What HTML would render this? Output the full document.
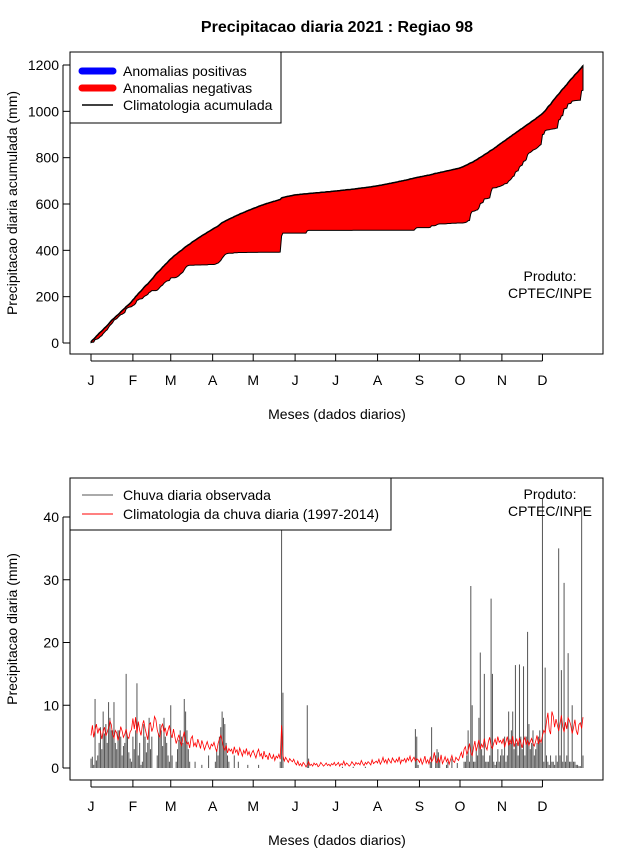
<!DOCTYPE html>
<html><head><meta charset="utf-8"><style>
body{margin:0;background:#fff}
svg{display:block;font-family:"Liberation Sans",sans-serif}
</style></head><body>
<svg id="c" width="640" height="850" viewBox="0 0 640 850" xmlns="http://www.w3.org/2000/svg">
<rect width="640" height="850" fill="#fff"/>
<text x="337" y="32" font-size="16" font-weight="bold" text-anchor="middle">Precipitacao diaria 2021 : Regiao 98</text>
<g id="top"></g>
<g id="bot"></g>
</svg>
<script>
const monthLabels=["J","F","M","A","M","J","J","A","S","O","N","D"];
const monthDays=[31,28,31,30,31,30,31,31,30,31,30,31];
const topTicks=[0,200,400,600,800,1000,1200];
const botTicks=[0,10,20,30,40];
const climJan=[5.2,6.8,4.9,6.1,7.0,5.5,6.3,5.8,4.6,5.9,6.5,5.1,5.7,6.4,7.5,6.9,5.3,4.8,6.0,5.6,4.4,5.2,6.6,5.9,4.9,5.4,6.2,5.0,4.7,5.8,6.1];
const climFeb=[7.9,6.2,8.1,5.5,7.4,6.0,5.2,6.8,7.6,6.3,5.4,4.5,6.9,7.2,5.8,6.5,8.2,7.7,6.1,5.3,4.9,6.6,7.0,5.7,6.4,5.1,6.0,6.8];
const climMar=[5.5,4.8,6.2,5.0,3.9,4.6,5.3,4.2,3.6,4.9,5.8,4.4,3.8,4.1,3.2,4.7,5.1,3.5,4.0,3.3,4.6,3.9,3.1,4.4,3.7,2.9,3.6,4.2,3.4,3.0,3.8];
const climApr=[3.5,4.1,3.2,2.6,3.9,4.6,5.2,4.4,3.3,2.8,3.6,2.4,3.1,2.7,3.0,2.2,3.4,2.5,2.9,2.0,3.2,2.6,1.9,2.8,2.3,3.1,2.1,2.6,1.8,2.4];
const climMay=[2.8,2.2,1.6,2.5,3.0,1.9,2.3,1.4,2.7,1.8,2.0,1.3,2.4,1.7,1.5,2.1,1.2,1.9,1.6,2.2,1.4,6.8,2.0,1.1,1.7,1.3,0.9,1.5,1.2,1.0,1.4];
const climJun=[0.8,0.5,1.1,0.4,0.7,0.3,0.9,0.6,0.2,0.5,1.0,0.4,0.6,0.3,0.8,0.5,0.7,0.2,0.4,0.9,0.6,0.3,0.5,0.8,0.4,0.6,0.3,0.7,0.5,0.9];
const climJul=[0.4,0.6,0.9,0.3,0.7,0.5,1.1,0.4,0.8,0.6,0.3,0.5,1.0,0.7,0.4,0.9,0.6,0.8,0.5,1.2,0.7,0.4,0.9,0.6,1.0,0.8,0.5,1.3,0.7,0.9,1.1];
const climAug=[0.8,1.4,0.6,1.0,1.7,0.9,1.3,0.7,1.5,1.1,0.8,1.6,1.2,0.9,1.4,1.0,1.8,0.7,1.3,1.1,1.5,0.9,1.6,1.2,1.9,1.0,1.4,1.7,1.1,1.5,1.3];
const climSep=[0.9,1.5,0.6,1.1,1.9,0.8,1.3,0.7,1.7,1.0,1.4,2.5,1.1,0.8,1.6,0.9,2.1,0.7,1.2,1.8,1.0,1.5,0.6,1.3,2.0,1.1,0.9,1.7,1.4,1.2];
const climOct=[1.9,2.5,1.6,3.0,3.4,2.2,2.8,3.9,2.4,2.0,3.2,4.3,2.7,3.6,4.5,3.0,3.8,3.3,4.7,3.4,2.9,4.2,4.9,3.5,3.1,4.0,4.6,3.7,5.0,4.1,4.4];
const climNov=[3.9,4.7,3.3,4.2,5.0,3.6,4.5,3.8,5.1,3.4,4.1,4.6,3.5,4.8,4.0,3.2,4.3,4.9,3.7,4.4,3.6,4.2,4.7,3.9,3.5,4.3,5.2,3.8,4.6,4.1];
const climDec=[5.2,6.0,5.6,7.4,8.8,6.1,5.4,9.0,8.2,6.5,7.8,6.9,5.9,7.1,8.4,6.6,5.7,7.3,6.2,8.0,7.5,6.8,5.5,6.4,7.7,6.0,5.3,6.9,7.2,6.3,8.1];
const obsJan=[1.5,1.8,0.5,11,1.2,2,4,6.5,3,9,5.5,7,4,10.5,8,6,6,10.5,4,3,6,6,5,2,3.5,4,15,5,2.5,1.5,1];
const obsFeb=[5,3,6,13.5,2,4,0.5,1,7,5,2.5,4,8,3,5,0,0,0,2,5.5,7,6,3.5,8,5,4,2,1];
const obsMar=[10,2,0,0,1,3,4.5,6,5,4,11,9,6,3,1,0,0,0,1,0,0,0,0,0.5,0,0,0,0,2,0,0];
const obsApr=[0,0,1,3,2,5,6.5,9,8,7,4,2,1,0,0,0,2,0,0,1,0,0,0,0,0,0,0.5,0,0,0];
const obsMay=[0,0,0,0,0.5,0,0,0,0,0,0,0,0,0,0,0,0,0,0,0,1,70,12,0,0,0,0,0,0,0,0];
const obsJun=[0,0,0,0,0,0,0,0,0,10,1.5,0,0,0,0,0,0,0,0,0,0,0,0,0,0,0,0,0,0,0];
const obsJul=[0,0,0,0,0,0.2,0,0,0,0,0,0,0,0.2,0,0,0,0,0,0,0,0,0.2,0,0,0,0,0,0,0,0];
const obsAug=[0,0,0,0,0,0,0,0,0,0,0,0,0,0,0,0,0,0,0,0,0,0,0,0,0,0,0,0,6.2,5,0.5];
const obsSep=[0,0,0,0,0,0,0,0,1,6.5,0,0,2,3,2.5,1,0,0,0,0,0.5,1,0,0,1.5,0,0,0,0.8,0];
const obsOct=[0,0,0,1,1,2,6,1,29,10,1,1,3,2,8,18.4,3,2,15,1,1,1,2,27,15,1,0.5,1,3,1,2];
const obsNov=[3,2,5,1,2,9,4,6,9,3,16.4,4,2,16.5,5,3,16.2,2,5,21.7,7,3,4,6,2,3,4,5,6,4];
const obsDec=[43,1,16,2,1,0.5,2,1,1,0.5,2,1,35,2,15.6,1,29.5,1,2,18.3,1,1,10,1,1,0.5,0.5,0.3,0.3,41,2];

const clim=[].concat(climJan,climFeb,climMar,climApr,climMay,climJun,climJul,climAug,climSep,climOct,climNov,climDec);
const obs=[].concat(obsJan,obsFeb,obsMar,obsApr,obsMay,obsJun,obsJul,obsAug,obsSep,obsOct,obsNov,obsDec);

const NS="http://www.w3.org/2000/svg";
const X0=91,X1=583,L=70,R=603;
function xDay(i){return X0+i*(X1-X0)/364;}
function yTop(v){return 343-v*278/1200;}
function yBot(v){return 768-v*251/40;}
function mk(parent,tag,attrs,txt){const e=document.createElementNS(NS,tag);for(const k in attrs)e.setAttribute(k,attrs[k]);if(txt!==undefined)e.textContent=txt;parent.appendChild(e);return e;}

function axes(g,top,bottom,yf,ticks,pfx){
  const box=mk(g,"rect",{x:L,y:top,width:R-L,height:bottom-top,fill:"none",stroke:"#000","stroke-width":1});
  
  
  let start=0;
  monthLabels.forEach((m,k)=>{
    const x=xDay(start);
    const t=mk(g,"line",{x1:x,x2:x,y1:bottom,y2:bottom+7,stroke:"#000"});
    
    
    const lb=mk(g,"text",{x:x,y:bottom+31,"font-size":14,"text-anchor":"middle"},m);
    
    
    start+=monthDays[k];
  });
  const ax=mk(g,"line",{x1:X0,x2:xDay(334),y1:bottom+7,y2:bottom+7,stroke:"#000"});
  
  
  ticks.forEach(v=>{
    const y=yf(v);
    const t=mk(g,"line",{x1:L-7,x2:L,y1:y,y2:y,stroke:"#000"});
    
    
    const lb=mk(g,"text",{x:L-11,y:y+5,"font-size":14,"text-anchor":"end"},String(v));
    
    
  });
  const ay=mk(g,"line",{x1:L-7,x2:L-7,y1:yf(ticks[0]),y2:yf(ticks[ticks.length-1]),stroke:"#000"});
  
  
  const xt=mk(g,"text",{x:337,y:bottom+65,"font-size":14,"text-anchor":"middle"},"Meses (dados diarios)");
  
  
}

// TOP
const gt=document.getElementById("top");
const cc=[],co=[];let sc=0,so=0;
for(let i=0;i<365;i++){sc+=clim[i];so+=obs[i];cc.push(sc);co.push(so);}
let poly=[];
for(let i=0;i<365;i++)poly.push(xDay(i).toFixed(1)+","+yTop(cc[i]).toFixed(1));
for(let i=364;i>=0;i--)poly.push(xDay(i).toFixed(1)+","+yTop(co[i]).toFixed(1));
const area=mk(gt,"polygon",{points:poly.join(" "),fill:"#ff0000",stroke:"#000","stroke-width":1});


const cl=mk(gt,"polyline",{points:cc.map((v,i)=>xDay(i).toFixed(1)+","+yTop(v).toFixed(1)).join(" "),fill:"none",stroke:"#000","stroke-width":1.5});


axes(gt,52,354,yTop,topTicks,"top");
const yt1=mk(gt,"text",{x:0,y:0,"font-size":14,"text-anchor":"middle",transform:"translate(17,203) rotate(-90)"},"Precipitacao diaria acumulada (mm)");


const lg1=mk(gt,"g",{});


mk(lg1,"rect",{x:70,y:52,width:211,height:71,fill:"#fff",stroke:"#000"});
[["Anomalias positivas","#0000ff",7,71],["Anomalias negativas","#ff0000",7,88],["Climatologia acumulada","#000",1.5,105]].forEach(d=>{
  const ln=mk(lg1,"line",{x1:82,x2:113,y1:d[3],y2:d[3],stroke:d[1],"stroke-width":d[2],"stroke-linecap":d[2]>2?"round":"butt"});
  
  
  const tx=mk(lg1,"text",{x:123,y:d[3]+5,"font-size":14},d[0]);
  
  
});
const p1=mk(gt,"text",{x:550,y:281,"font-size":14,"text-anchor":"middle"},"Produto:");


const p2=mk(gt,"text",{x:550,y:298,"font-size":14,"text-anchor":"middle"},"CPTEC/INPE");



// BOTTOM
const gb=document.getElementById("bot");
mk(gb,"clipPath",{id:"cb"}).appendChild(document.createElementNS(NS,"rect"));
const cr=gb.querySelector("#cb rect");cr.setAttribute("x",L);cr.setAttribute("y",478);cr.setAttribute("width",R-L);cr.setAttribute("height",302);
const bars=mk(gb,"g",{"clip-path":"url(#cb)"});


obs.forEach((v,i)=>{
  const x=xDay(i);
  const b=mk(bars,"line",{x1:x,x2:x,y1:yBot(0),y2:yBot(v),stroke:"#555","stroke-width":1});
  
  
});
const rl=mk(gb,"polyline",{points:clim.map((v,i)=>xDay(i).toFixed(1)+","+yBot(v).toFixed(1)).join(" "),fill:"none",stroke:"#ff0000","stroke-width":0.8});


axes(gb,478,780,yBot,botTicks,"bottom");
const yt2=mk(gb,"text",{x:0,y:0,"font-size":14,"text-anchor":"middle",transform:"translate(17,629) rotate(-90)"},"Precipitacao diaria (mm)");


const lg2=mk(gb,"g",{});


mk(lg2,"rect",{x:70,y:478,width:321,height:52,fill:"#fff",stroke:"#000"});
[["Chuva diaria observada","#555",495],["Climatologia da chuva diaria (1997-2014)","#ff0000",514]].forEach(d=>{
  const ln=mk(lg2,"line",{x1:82,x2:113,y1:d[2],y2:d[2],stroke:d[1],"stroke-width":1});
  
  
  const tx=mk(lg2,"text",{x:123,y:d[2]+5,"font-size":14},d[0]);
  
  
});
const p3=mk(gb,"text",{x:550,y:499,"font-size":14,"text-anchor":"middle"},"Produto:");


const p4=mk(gb,"text",{x:550,y:516,"font-size":14,"text-anchor":"middle"},"CPTEC/INPE");


</script>
</body></html>
